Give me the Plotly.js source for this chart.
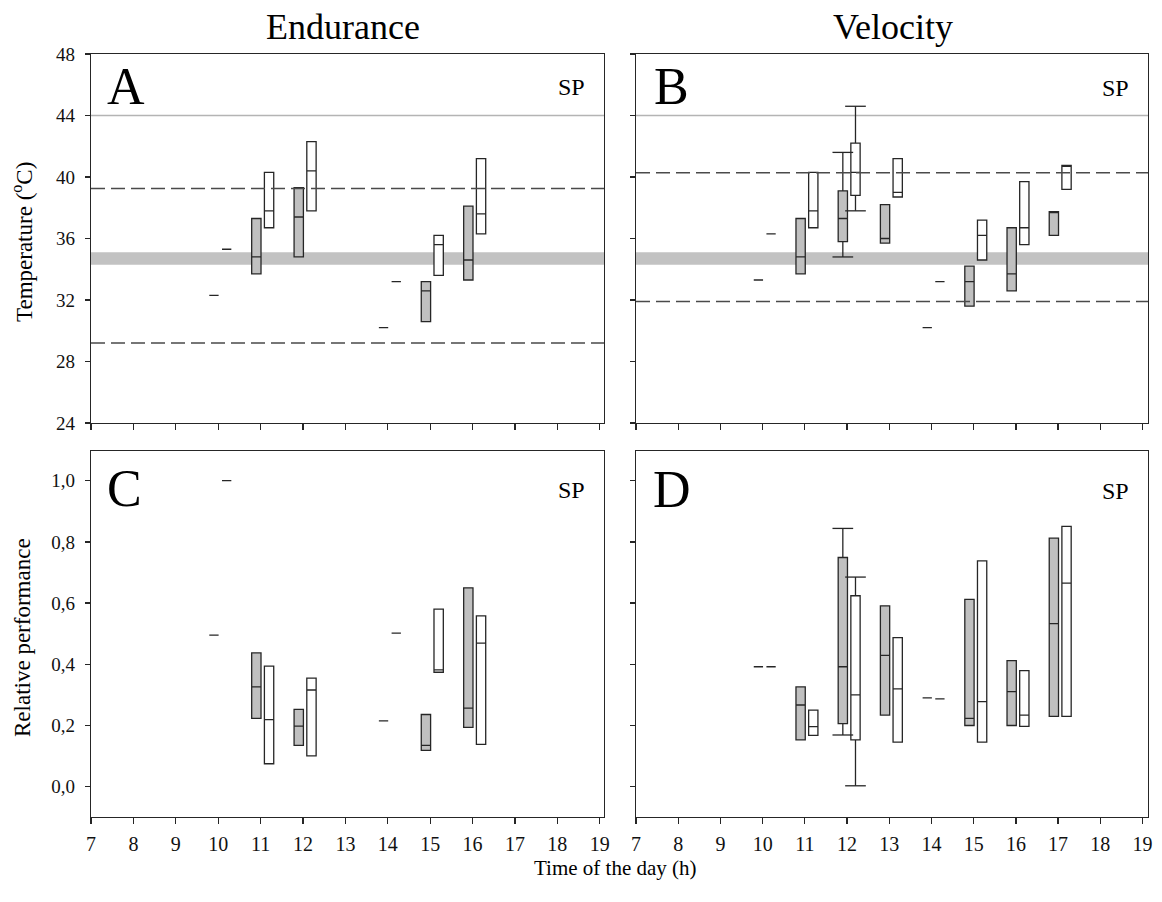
<!DOCTYPE html>
<html>
<head>
<meta charset="utf-8">
<script src="https://cdn.plot.ly/plotly-3.0.1.min.js"></script>
<style>
  html, body { margin: 0; padding: 0; background: #ffffff; }
  #chart { width: 1162px; height: 902px; }
</style>
</head>
<body>
<div id="chart"></div>
<script>
// ---------------- DATA ----------------
// Panel A: Endurance, temperature (ºC)
const hoursA = [10, 11, 12, 14, 15, 16];
const A_gray_q1  = [32.3, 33.7, 34.8, 30.2, 30.6, 33.3];
const A_gray_med = [32.3, 34.8, 37.4, 30.2, 32.6, 34.6];
const A_gray_q3  = [32.3, 37.3, 39.3, 30.2, 33.2, 38.1];
const A_white_q1  = [35.3, 36.7, 37.8, 33.2, 33.6, 36.3];
const A_white_med = [35.3, 37.8, 40.4, 33.2, 35.6, 37.6];
const A_white_q3  = [35.3, 40.3, 42.3, 33.2, 36.2, 41.2];
const A_refDashed = [39.25, 29.2];

// Panel B: Velocity, temperature (ºC)
const hoursB = [10, 11, 12, 13, 14, 15, 16, 17];
const B_gray_q1  = [33.3, 33.7, 35.8, 35.7, 30.2, 31.6, 32.6, 36.2];
const B_gray_med = [33.3, 34.8, 37.3, 36.0, 30.2, 33.2, 33.7, 37.7];
const B_gray_q3  = [33.3, 37.3, 39.1, 38.2, 30.2, 34.2, 36.7, 37.75];
const B_white_q1  = [36.3, 36.7, 38.8, 38.7, 33.2, 34.6, 35.6, 39.2];
const B_white_med = [36.3, 37.8, 40.3, 39.0, 33.2, 36.2, 36.7, 40.7];
const B_white_q3  = [36.3, 40.3, 42.2, 41.2, 33.2, 37.2, 39.7, 40.75];
const B_whiskerHour = [12];
const B_gray_lo = [34.8];
const B_gray_hi = [41.6];
const B_white_lo = [37.8];
const B_white_hi = [44.6];
const B_refDashed = [40.27, 31.9];

// Shared temperature references
const tempBand = [34.3, 35.1];
const tempMaxLine = [44];

// Panel C: Endurance, relative performance
const hoursC = [10, 11, 12, 14, 15, 16];
const C_gray_q1  = [0.495, 0.223, 0.135, 0.215, 0.119, 0.194];
const C_gray_med = [0.495, 0.326, 0.198, 0.215, 0.135, 0.257];
const C_gray_q3  = [0.495, 0.437, 0.253, 0.215, 0.236, 0.650];
const C_white_q1  = [1.0, 0.075, 0.101, 0.502, 0.374, 0.138];
const C_white_med = [1.0, 0.219, 0.316, 0.502, 0.382, 0.469];
const C_white_q3  = [1.0, 0.394, 0.355, 0.502, 0.580, 0.558];

// Panel D: Velocity, relative performance
const hoursD = [10, 11, 12, 13, 14, 15, 16, 17];
const D_gray_q1  = [0.392, 0.153, 0.206, 0.234, 0.290, 0.200, 0.200, 0.230];
const D_gray_med = [0.392, 0.267, 0.392, 0.429, 0.290, 0.223, 0.311, 0.533];
const D_gray_q3  = [0.392, 0.326, 0.749, 0.591, 0.290, 0.612, 0.412, 0.812];
const D_white_q1  = [0.392, 0.168, 0.153, 0.146, 0.287, 0.146, 0.197, 0.230];
const D_white_med = [0.392, 0.196, 0.300, 0.320, 0.287, 0.278, 0.234, 0.665];
const D_white_q3  = [0.392, 0.250, 0.624, 0.487, 0.287, 0.738, 0.379, 0.851];
const D_whiskerHour = [12];
const D_gray_lo = [0.169];
const D_gray_hi = [0.844];
const D_white_lo = [0.003];
const D_white_hi = [0.685];

const hourTicks = [7, 8, 9, 10, 11, 12, 13, 14, 15, 16, 17, 18, 19];
const tempTicks = [24, 28, 32, 36, 40, 44, 48];
const perfTicks = [0, 0.2, 0.4, 0.6, 0.8, 1.0];

// ---------------- STYLE ----------------
const FONT = '"Liberation Serif", "Times New Roman", Times, serif';
const INK = '#262626';
const GRAY_FILL = '#c0c0c0';
const BOX_W = 0.22;
const OFF_GRAY = -0.10;
const OFF_WHITE = 0.20;
const CAP_HALF = 0.245;

const W = 1162, H = 902;
const px = v => v / W;
const py = v => 1 - v / H;

function boxTrace(hours, q1, med, q3, fill, off, xa, ya, whHours, lo, hi) {
  const lf = q1.slice(), uf = q3.slice();
  if (whHours) {
    whHours.forEach((h, k) => {
      const i = hours.indexOf(h);
      lf[i] = lo[k]; uf[i] = hi[k];
    });
  }
  return {
    type: 'box',
    x: hours.map(h => h + off),
    q1: q1, median: med, q3: q3,
    lowerfence: lf, upperfence: uf,
    width: BOX_W,
    fillcolor: fill,
    line: { color: INK, width: 1.3 },
    whiskerwidth: 0,
    boxpoints: false,
    hoverinfo: 'skip',
    showlegend: false,
    xaxis: xa, yaxis: ya
  };
}

function capTrace(whHours, lo, hi, off, xa, ya) {
  const xs = [], ys = [];
  whHours.forEach((h, k) => {
    const c = h + off;
    [lo[k], hi[k]].forEach(v => {
      xs.push(c - CAP_HALF, c + CAP_HALF, null);
      ys.push(v, v, null);
    });
  });
  return {
    type: 'scatter', mode: 'lines', x: xs, y: ys,
    line: { color: INK, width: 1.3 },
    hoverinfo: 'skip', showlegend: false, xaxis: xa, yaxis: ya
  };
}

const traces = [
  boxTrace(hoursA, A_gray_q1, A_gray_med, A_gray_q3, GRAY_FILL, OFF_GRAY, 'x', 'y'),
  boxTrace(hoursA, A_white_q1, A_white_med, A_white_q3, '#ffffff', OFF_WHITE, 'x', 'y'),
  boxTrace(hoursB, B_gray_q1, B_gray_med, B_gray_q3, GRAY_FILL, OFF_GRAY, 'x2', 'y2', B_whiskerHour, B_gray_lo, B_gray_hi),
  boxTrace(hoursB, B_white_q1, B_white_med, B_white_q3, '#ffffff', OFF_WHITE, 'x2', 'y2', B_whiskerHour, B_white_lo, B_white_hi),
  capTrace(B_whiskerHour, B_gray_lo, B_gray_hi, OFF_GRAY, 'x2', 'y2'),
  capTrace(B_whiskerHour, B_white_lo, B_white_hi, OFF_WHITE, 'x2', 'y2'),
  boxTrace(hoursC, C_gray_q1, C_gray_med, C_gray_q3, GRAY_FILL, OFF_GRAY, 'x3', 'y3'),
  boxTrace(hoursC, C_white_q1, C_white_med, C_white_q3, '#ffffff', OFF_WHITE, 'x3', 'y3'),
  boxTrace(hoursD, D_gray_q1, D_gray_med, D_gray_q3, GRAY_FILL, OFF_GRAY, 'x4', 'y4', D_whiskerHour, D_gray_lo, D_gray_hi),
  boxTrace(hoursD, D_white_q1, D_white_med, D_white_q3, '#ffffff', OFF_WHITE, 'x4', 'y4', D_whiskerHour, D_white_lo, D_white_hi),
  capTrace(D_whiskerHour, D_gray_lo, D_gray_hi, OFF_GRAY, 'x4', 'y4'),
  capTrace(D_whiskerHour, D_white_lo, D_white_hi, OFF_WHITE, 'x4', 'y4')
];

function xAxis(dom, anchor, labels, rmax) {
  return {
    domain: dom, anchor: anchor, range: [7, rmax],
    tickmode: 'array', tickvals: hourTicks, ticktext: hourTicks.map(String),
    ticks: 'outside', ticklen: 6, tickwidth: 1.3, tickcolor: INK,
    showticklabels: labels, tickangle: 0, ticklabelstandoff: 3,
    tickfont: { family: FONT, size: 20, color: '#111' },
    showline: true, mirror: true, linecolor: INK, linewidth: 1.3,
    showgrid: false, zeroline: false, fixedrange: true
  };
}
function yAxis(dom, anchor, range, tv, labels, fmt) {
  return {
    domain: dom, anchor: anchor, range: range,
    tickmode: 'array', tickvals: tv,
    ticktext: tv.map(v => fmt ? v.toFixed(1).replace('.', ',') : String(v)),
    ticks: 'outside', ticklen: 5, tickwidth: 1.3, tickcolor: INK,
    showticklabels: labels, ticklabelstandoff: 6,
    tickfont: { family: FONT, size: 19, color: '#111' },
    showline: true, mirror: true, linecolor: INK, linewidth: 1.3,
    showgrid: false, zeroline: false, fixedrange: true
  };
}

const domXL = [px(91), px(604)];
const domXR = [px(636), px(1148)];
const domYT = [py(423), py(54)];
const domYB = [py(817), py(451)];

const shapes = [];
[['x', 'y', A_refDashed], ['x2', 'y2', B_refDashed]].forEach(([xa, ya, dashed]) => {
  shapes.push({ type: 'rect', xref: xa + ' domain', yref: ya, x0: 0, x1: 1,
    y0: tempBand[0], y1: tempBand[1], fillcolor: '#c2c2c2', line: { width: 0 }, layer: 'below' });
  shapes.push({ type: 'line', xref: xa + ' domain', yref: ya, x0: 0, x1: 1,
    y0: tempMaxLine[0], y1: tempMaxLine[0], line: { color: '#b4b4b4', width: 1.5 }, layer: 'below' });
  dashed.forEach(v => shapes.push({ type: 'line', xref: xa + ' domain', yref: ya, x0: 0, x1: 1,
    y0: v, y1: v, line: { color: '#4a4a4a', width: 1.5, dash: '14px,6px' }, layer: 'above' }));
});

function ann(text, x, y, size, opts) {
  return Object.assign({ text: text, x: px(x), y: py(y), xref: 'paper', yref: 'paper',
    showarrow: false, font: { family: FONT, size: size, color: '#000' },
    xanchor: 'center', yanchor: 'middle' }, opts || {});
}

const annotations = [
  ann('Endurance', 343, 27, 36),
  ann('Velocity', 893, 27, 36),
  ann('Temperature (<sup>o</sup>C)', 22, 242, 23, { textangle: -90 }),
  ann('Relative performance', 22, 638, 23, { textangle: -90 }),
  ann('Time of the day (h)', 615, 868, 21),
  ann('A', 105, 86, 52, { xanchor: 'left' }),
  ann('B', 652, 86, 52, { xanchor: 'left' }),
  ann('C', 105, 488, 52, { xanchor: 'left' }),
  ann('D', 651, 489, 52, { xanchor: 'left' }),
  ann('SP', 587, 87, 24, { xanchor: 'right' }),
  ann('SP', 1131, 88, 24, { xanchor: 'right' }),
  ann('SP', 587, 490, 24, { xanchor: 'right' }),
  ann('SP', 1131, 491, 24, { xanchor: 'right' })
];

const layout = {
  width: W, height: H,
  margin: { l: 0, r: 0, t: 0, b: 0 },
  paper_bgcolor: '#ffffff', plot_bgcolor: '#ffffff',
  showlegend: false,
  boxmode: 'overlay',
  xaxis: xAxis(domXL, 'y', false, 19.1),
  yaxis: yAxis(domYT, 'x', [24, 48], tempTicks, true, false),
  xaxis2: xAxis(domXR, 'y2', false, 19.13),
  yaxis2: yAxis(domYT, 'x2', [24, 48], tempTicks, false, false),
  xaxis3: xAxis(domXL, 'y3', true, 19.1),
  yaxis3: yAxis(domYB, 'x3', [-0.099, 1.097], perfTicks, true, true),
  xaxis4: xAxis(domXR, 'y4', true, 19.13),
  yaxis4: yAxis(domYB, 'x4', [-0.099, 1.097], perfTicks, false, true),
  shapes: shapes,
  annotations: annotations
};

Plotly.newPlot('chart', traces, layout, { staticPlot: true, displayModeBar: false });
</script>
</body>
</html>
